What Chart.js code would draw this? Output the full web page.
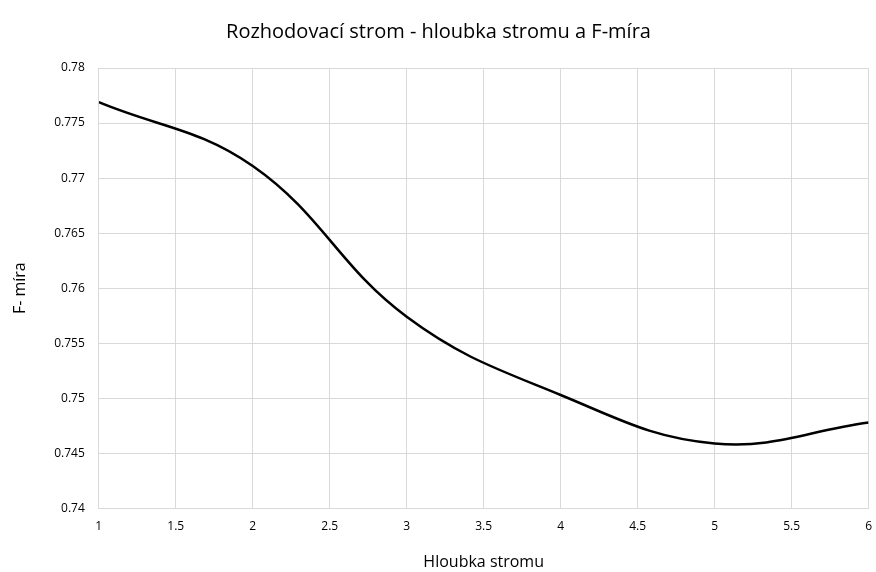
<!DOCTYPE html>
<html>
<head>
<meta charset="utf-8">
<script src="https://cdn.jsdelivr.net/npm/chart.js@4"></script>
<style>
  html, body { margin: 0; padding: 0; background: #fff; overflow: hidden; }
  canvas { display: block; }
</style>
</head>
<body>
<canvas id="chart" width="876" height="572"></canvas>
<script>
// tree depth vs F-measure
const depths = [1, 2, 3, 4, 5, 6];
const fScores = [0.7769, 0.7711, 0.7574, 0.7503, 0.7459, 0.7478];

const chartTitle = 'Rozhodovací strom - hloubka stromu a F-míra';
const xTitle = 'Hloubka stromu';
const yTitle = 'F- míra';

const points = depths.map((d, i) => ({ x: d, y: fScores[i] }));

const fontFamily = '"Open Sans", "Liberation Sans", sans-serif';

new Chart(document.getElementById('chart'), {
    type: 'line',
    data: {
        datasets: [{
            data: points,
            borderColor: '#000000',
            borderWidth: 2.5,
            pointRadius: 0,
            tension: 0.4,
            fill: false
        }]
    },
    options: {
        responsive: false,
        animation: false,
        layout: { padding: { left: 7, right: 6, top: 14, bottom: 0 } },
        plugins: {
            legend: { display: false },
            tooltip: { enabled: false },
            title: {
                display: true,
                text: chartTitle,
                color: '#000',
                font: { family: fontFamily, size: 20, weight: 'normal' },
                padding: { top: 6, bottom: 24 }
            }
        },
        scales: {
            x: {
                type: 'linear',
                min: 1,
                max: 6,
                ticks: {
                    stepSize: 0.5,
                    color: '#000',
                    font: { family: fontFamily, size: 12 },
                    padding: 4,
                    maxRotation: 0,
                    callback: v => String(v)
                },
                // invisible tick marks just to push the labels down
                grid: { color: '#d9d9d9', drawTicks: true, tickLength: 7, tickColor: 'rgba(0,0,0,0)' },
                border: { color: '#d9d9d9' },
                title: {
                    display: true,
                    text: xTitle,
                    color: '#000',
                    font: { family: fontFamily, size: 16 },
                    padding: { top: 15, bottom: 0 }
                }
            },
            y: {
                min: 0.74,
                max: 0.78,
                ticks: {
                    stepSize: 0.005,
                    color: '#000',
                    font: { family: fontFamily, size: 12 },
                    padding: 14,
                    callback: v => String(Math.round(v * 1000) / 1000)
                },
                grid: { color: '#d9d9d9', drawTicks: false },
                border: { display: false },
                title: {
                    display: true,
                    text: yTitle,
                    color: '#000',
                    font: { family: fontFamily, size: 16 },
                    padding: { bottom: 10 }
                }
            }
        }
    }
});
</script>
</body>
</html>
